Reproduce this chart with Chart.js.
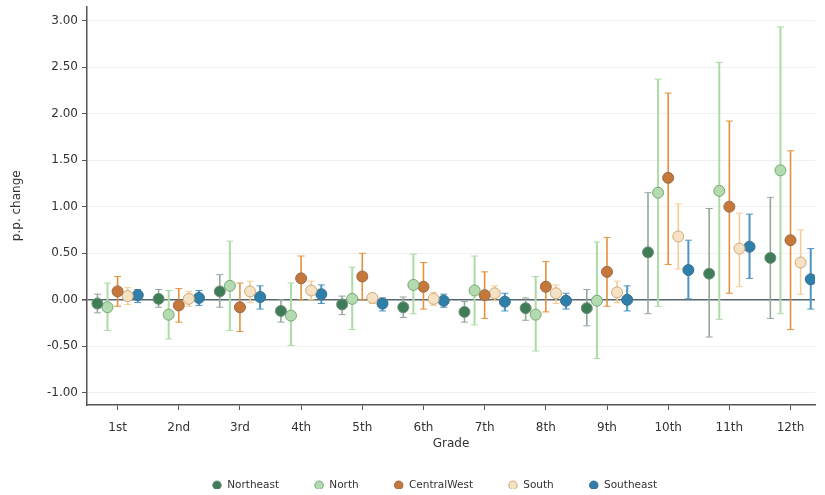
<!DOCTYPE html>
<html>
<head>
<meta charset="utf-8">
<script src="https://cdn.jsdelivr.net/npm/chart.js@4"></script>
<style>
  html, body { margin: 0; background: #fff; }
  #wrap { width: 825px; height: 495px; }
</style>
</head>
<body>
<div id="wrap"><canvas id="chart"></canvas></div>
<script>
'use strict';

// categories
const grades = ['1st', '2nd', '3rd', '4th', '5th', '6th', '7th', '8th', '9th', '10th', '11th', '12th'];
const regions = ['Northeast', 'North', 'CentralWest', 'South', 'Southeast'];
const yTicks = [-1, -0.5, 0, 0.5, 1, 1.5, 2, 2.5, 3];

// point estimates and confidence bounds, by region
const neEst = [-0.04, 0.01, 0.09, -0.12, -0.05, -0.08, -0.13, -0.09, -0.09, 0.51, 0.28, 0.45];
const neLo  = [-0.14, -0.08, -0.08, -0.24, -0.16, -0.19, -0.24, -0.22, -0.28, -0.15, -0.40, -0.20];
const neHi  = [0.06, 0.11, 0.27, 0.00, 0.04, 0.03, -0.02, 0.02, 0.11, 1.15, 0.98, 1.10];

const nEst = [-0.08, -0.16, 0.15, -0.17, 0.01, 0.16, 0.10, -0.16, -0.01, 1.15, 1.17, 1.39];
const nLo  = [-0.33, -0.42, -0.33, -0.49, -0.32, -0.15, -0.27, -0.55, -0.63, -0.07, -0.21, -0.15];
const nHi  = [0.18, 0.10, 0.63, 0.18, 0.35, 0.49, 0.47, 0.25, 0.62, 2.37, 2.55, 2.93];

const cwEst = [0.09, -0.06, -0.08, 0.23, 0.25, 0.14, 0.05, 0.14, 0.30, 1.31, 1.00, 0.64];
const cwLo  = [-0.07, -0.24, -0.34, 0.00, 0.00, -0.10, -0.20, -0.13, -0.07, 0.38, 0.07, -0.32];
const cwHi  = [0.25, 0.12, 0.18, 0.47, 0.50, 0.40, 0.30, 0.41, 0.67, 2.22, 1.92, 1.60];

const sEst = [0.04, 0.01, 0.09, 0.10, 0.02, 0.01, 0.07, 0.07, 0.08, 0.68, 0.55, 0.40];
const sLo  = [-0.05, -0.07, -0.03, 0.00, -0.04, -0.06, -0.01, -0.04, -0.03, 0.33, 0.14, 0.06];
const sHi  = [0.13, 0.09, 0.20, 0.20, 0.06, 0.08, 0.15, 0.16, 0.20, 1.03, 0.93, 0.75];

const seEst = [0.05, 0.02, 0.03, 0.06, -0.04, -0.01, -0.02, -0.01, 0.00, 0.32, 0.57, 0.22];
const seLo  = [-0.03, -0.06, -0.10, -0.04, -0.12, -0.08, -0.12, -0.10, -0.12, 0.01, 0.23, -0.10];
const seHi  = [0.11, 0.10, 0.15, 0.16, 0.02, 0.06, 0.07, 0.07, 0.15, 0.64, 0.92, 0.55];

const estimates = [neEst, nEst, cwEst, sEst, seEst];
const lowers = [neLo, nLo, cwLo, sLo, seLo];
const uppers = [neHi, nHi, cwHi, sHi, seHi];

const styles = [
    { fill: '#3f7d58', border: '#6f8f7a', ci: '#94a89a', ciWidth: 1.6 },
    { fill: '#b4dab0', border: '#74a971', ci: '#acdca5', ciWidth: 2 },
    { fill: '#c6773a', border: '#9a6a48', ci: '#e2923e', ciWidth: 1.6 },
    { fill: '#f5e2c4', border: '#cfa877', ci: '#f6cc95', ciWidth: 1.6 },
    { fill: '#2e7fa9', border: '#3d6f8b', ci: '#4a95c6', ciWidth: 2 }
];
const offsets = [-0.33, -0.165, 0, 0.165, 0.33];
const font = 'DejaVu Sans, Liberation Sans, sans-serif';

const datasets = [];
regions.forEach((name, r) => {
    const ciData = [];
    grades.forEach((g, i) => {
        const x = i + 1 + offsets[r];
        ciData.push({ x: x, y: lowers[r][i] });
        ciData.push({ x: x, y: uppers[r][i] });
        ciData.push({ x: x, y: null });
    });
    datasets.push({
        type: 'line',
        label: name + ' CI',
        data: ciData,
        borderColor: styles[r].ci,
        borderWidth: styles[r].ciWidth,
        pointStyle: 'line',
        pointRadius: 3.5,
        pointBorderColor: styles[r].ci,
        pointBorderWidth: 1,
        spanGaps: false,
        order: 2
    });
});
regions.forEach((name, r) => {
    datasets.push({
        type: 'scatter',
        label: name,
        data: estimates[r].map((v, i) => ({ x: i + 1 + offsets[r], y: v })),
        backgroundColor: styles[r].fill,
        borderColor: styles[r].border,
        borderWidth: 1,
        pointRadius: 5.5,
        pointHoverRadius: 5.5,
        order: 1
    });
});

// legend sits lower and a bit right of where Chart.js would put it
const legendPlacement = {
    id: 'legendPlacement',
    beforeInit(chart) {
        const fitLegend = chart.legend.fit;
        chart.legend.fit = function () {
            fitLegend.call(this);
            this.height = 44;
        };
    },
    afterLayout(chart) {
        const l = chart.legend;
        l.top = 445;
        l.bottom = l.top + l.height;
        l.left += 22;
        l.right += 22;
    }
};

new Chart(document.getElementById('chart'), {
    type: 'scatter',
    data: { datasets: datasets },
    plugins: [legendPlacement],
    options: {
        responsive: true,
        maintainAspectRatio: false,
        animation: false,
        layout: { padding: { left: 10, right: 10, top: 5, bottom: 0 } },
        scales: {
            x: {
                type: 'linear',
                min: 0.5,
                max: 12.4,
                afterBuildTicks: (s) => { s.ticks = grades.map((g, i) => ({ value: i + 1 })); },
                afterFit: (s) => { s.height = 46; },
                border: { display: true, color: '#555', width: 1.5 },
                grid: { drawOnChartArea: false, drawTicks: true, tickLength: 5, tickColor: '#555' },
                ticks: {
                    autoSkip: false,
                    maxRotation: 0,
                    padding: 11,
                    color: '#333',
                    font: { family: font, size: 12 },
                    callback: (v) => grades[Math.round(v) - 1]
                },
                title: {
                    display: true,
                    text: 'Grade',
                    color: '#333',
                    padding: { top: 0, bottom: 0 },
                    font: { family: font, size: 12 }
                }
            },
            y: {
                min: -1.13,
                max: 3.15,
                afterBuildTicks: (s) => { s.ticks = yTicks.map(v => ({ value: v })); },
                afterFit: (s) => {
                    s.width = 77;
                    s.paddingTop = 0;
                    s.paddingBottom = 0;
                },
                border: { display: true, color: '#555', width: 1.5 },
                grid: {
                    color: (c) => c.tick && c.tick.value === 0 ? '#56666e' : '#f0f0f0',
                    lineWidth: (c) => c.tick && c.tick.value === 0 ? 1.6 : 1,
                    tickColor: '#555',
                    tickLength: 5
                },
                ticks: {
                    padding: 4,
                    color: '#333',
                    font: { family: font, size: 12 },
                    callback: (v) => v.toFixed(2)
                },
                title: {
                    display: true,
                    text: 'p.p. change',
                    color: '#333',
                    padding: { top: 0, bottom: 4 },
                    font: { family: font, size: 12 }
                }
            }
        },
        plugins: {
            tooltip: { enabled: false },
            legend: {
                display: true,
                position: 'bottom',
                labels: {
                    usePointStyle: true,
                    pointStyle: 'circle',
                    boxWidth: 10,
                    boxHeight: 6,
                    padding: 35,
                    color: '#333',
                    font: { family: font, size: 10.5 },
                    filter: (item) => !item.text.endsWith(' CI')
                }
            }
        }
    }
});
</script>
</body>
</html>
